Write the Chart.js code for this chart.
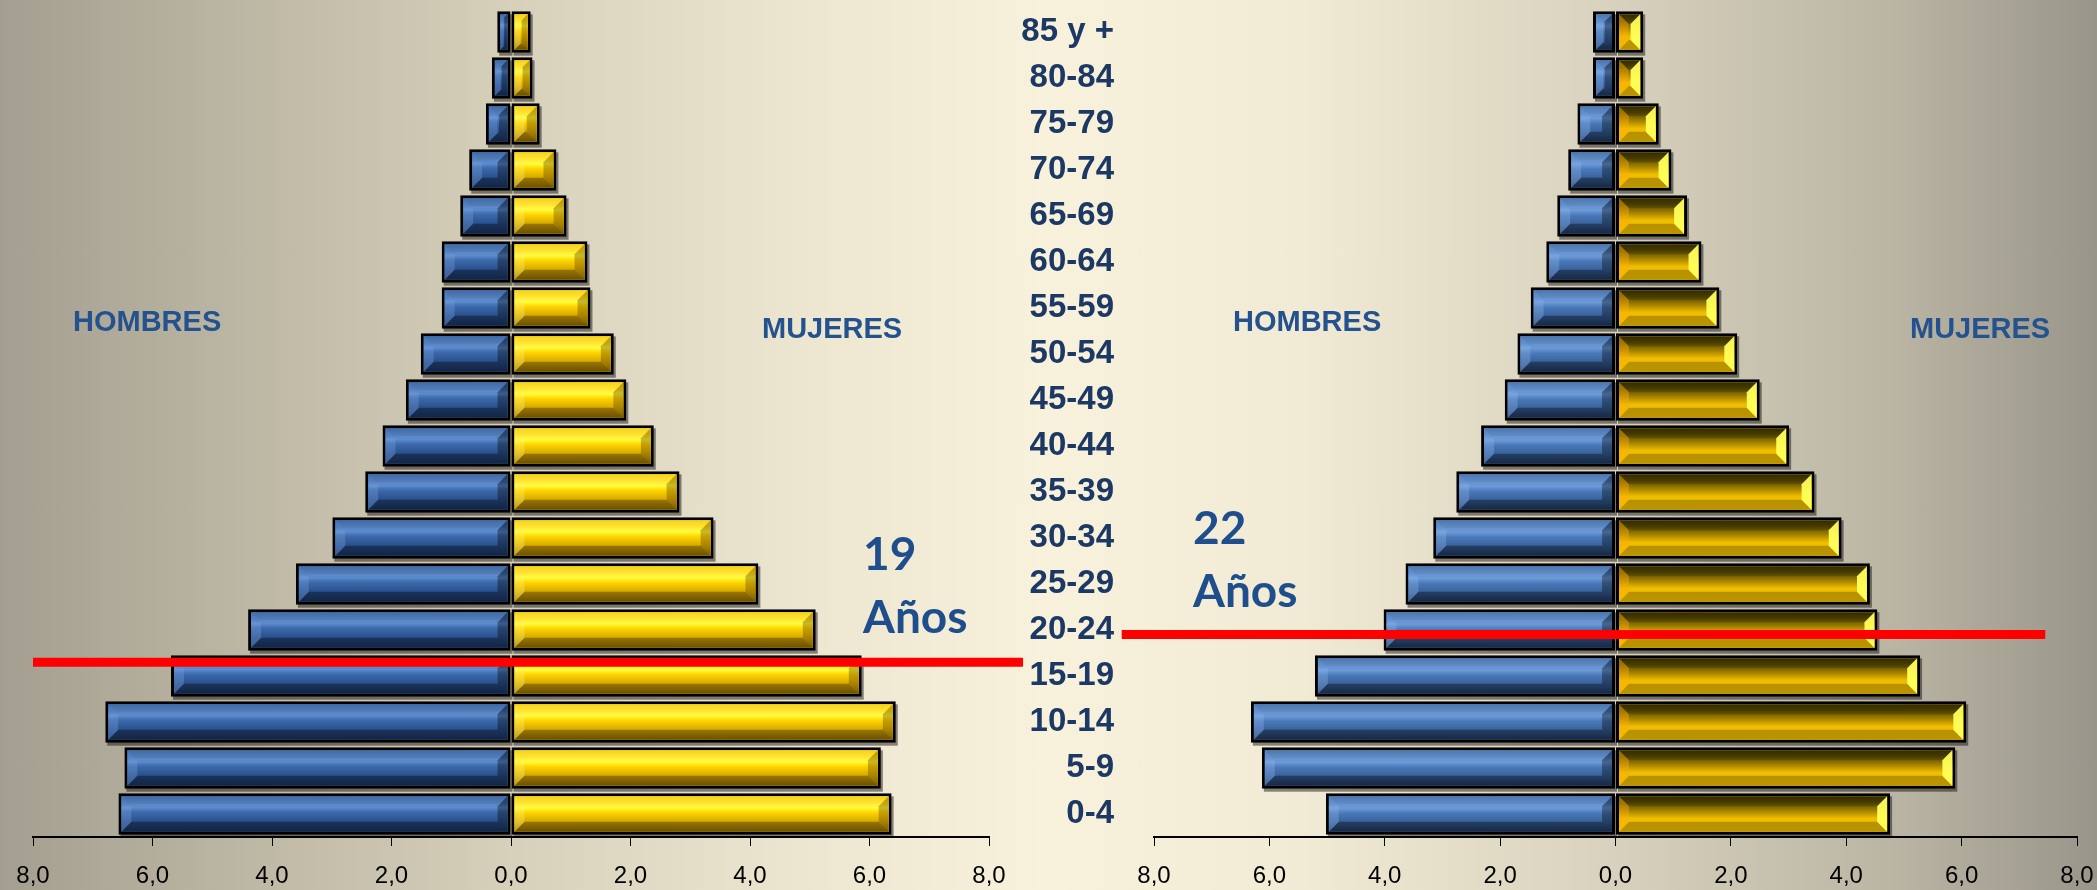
<!DOCTYPE html>
<html>
<head>
<meta charset="utf-8">
<script src="https://cdn.jsdelivr.net/npm/chart.js@4.4.1/dist/chart.umd.min.js"></script>
<style>
  body {
    margin: 0; width: 2097px; height: 890px; overflow: hidden; position: relative;
    font-family: "Liberation Sans", Arial, sans-serif;
    background: linear-gradient(to right, #a39e8f 0%, #b9b4a1 10%, #d6cfba 24%, #ece5cf 38%, #f8f2dd 50%, #f1ead4 62%, #d9d3bf 76%, #bbb6a4 90%, #99958a 100%);
  }
  .box { position: absolute; top: 0; height: 890px; }
  #box1 { left: 0; width: 1040px; }
  #box2 { left: 1000px; width: 1097px; }
  .sex { position: absolute; font-weight: bold; font-size: 29px; line-height: 29px; color: #23528f; white-space: nowrap; }
  .age { position: absolute; font-family: Lato, "Open Sans", sans-serif; font-weight: bold; font-size: 46px; line-height: 46px; color: #1f4e8c; }
</style>
</head>
<body>
<div class="box" id="box1"><canvas id="c1"></canvas></div>
<div class="box" id="box2"><canvas id="c2"></canvas></div>

<div class="sex" style="left:73px;top:307px">HOMBRES</div>
<div class="sex" style="left:762px;top:314px">MUJERES</div>
<div class="sex" style="left:1233px;top:307px">HOMBRES</div>
<div class="sex" style="left:1910px;top:314px">MUJERES</div>

<div class="age" style="left:863px;top:530px">19</div>
<div class="age" style="left:863px;top:593px">Años</div>
<div class="age" style="left:1193px;top:504px">22</div>
<div class="age" style="left:1193px;top:567px">Años</div>

<script>
// age groups, top to bottom
const ageGroups = ['85 y +', '80-84', '75-79', '70-74', '65-69', '60-64', '55-59', '50-54', '45-49',
  '40-44', '35-39', '30-34', '25-29', '20-24', '15-19', '10-14', '5-9', '0-4'];

// left pyramid (%)
const men1   = [0.23, 0.32, 0.42, 0.70, 0.85, 1.16, 1.16, 1.51, 1.76, 2.15, 2.44, 2.99, 3.60, 4.40, 5.69, 6.79, 6.47, 6.57];
const women1 = [0.33, 0.36, 0.48, 0.76, 0.93, 1.28, 1.33, 1.72, 1.93, 2.39, 2.82, 3.39, 4.14, 5.10, 5.87, 6.44, 6.19, 6.37];
// right pyramid (%)
const men2   = [0.39, 0.39, 0.66, 0.82, 1.01, 1.20, 1.47, 1.70, 1.92, 2.33, 2.76, 3.16, 3.64, 4.02, 5.21, 6.32, 6.13, 5.02];
const women2 = [0.48, 0.48, 0.75, 0.97, 1.24, 1.49, 1.80, 2.11, 2.50, 3.01, 3.45, 3.92, 4.41, 4.54, 5.28, 6.08, 5.89, 4.76];

// median age (red line)
const medianAge1 = 19;
const medianAge2 = 22;

const fmt = v => Math.abs(v).toFixed(1).replace('.', ',');

// bevel looks, one per dataset
const look1 = [
  { base: '#2f5a9a',
    face: [[0, '#2c5a9c'], [0.2, '#3f6fb3'], [0.32, '#5d8dcf'], [0.44, '#3d6bad'], [0.72, '#294f8c'], [1, '#1d3a68']],
    top: 'rgba(255,255,255,0.10)', bottom: 'rgba(0,0,0,0.35)', left: 'rgba(120,160,220,0.35)', right: 'rgba(0,0,0,0.35)' },
  { base: '#f5c800',
    face: [[0, '#f3cb00'], [0.2, '#ffe01a'], [0.32, '#ffff3a'], [0.46, '#ffd400'], [0.75, '#cfa300'], [1, '#8a6b00']],
    top: 'rgba(255,255,200,0.15)', bottom: 'rgba(60,40,0,0.4)', left: 'rgba(255,240,120,0.35)', right: 'rgba(90,60,0,0.35)' }
];
const look2 = [
  { base: '#3f6eac',
    face: [[0, '#3a68a6'], [0.2, '#4d7ebf'], [0.33, '#6e9cdb'], [0.48, '#4a78b8'], [0.78, '#345c94'], [1, '#243e66']],
    top: 'rgba(255,255,255,0.10)', bottom: 'rgba(0,0,0,0.35)', left: 'rgba(140,180,235,0.35)', right: 'rgba(0,0,0,0.35)' },
  { base: '#e8b800',
    face: [[0, '#3b3300'], [0.18, '#564900'], [0.42, '#a88500'], [0.62, '#eebd00'], [1, '#f4c400']],
    top: 'rgba(0,0,0,0.15)', bottom: 'rgba(80,60,0,0.35)', left: 'rgba(255,170,0,0.45)', right: 'rgba(255,255,90,0.95)' }
];

function poly(ctx, pts, color) {
  ctx.beginPath();
  ctx.moveTo(pts[0][0], pts[0][1]);
  for (let i = 1; i < pts.length; i++) ctx.lineTo(pts[i][0], pts[i][1]);
  ctx.closePath();
  ctx.fillStyle = color;
  ctx.fill();
}

const bevel = {
  id: 'bevel',
  beforeDatasetsDraw(chart) {
    // soft drop shadow under each bar
    const ctx = chart.ctx;
    ctx.save();
    ctx.fillStyle = 'rgba(0,0,0,0.45)';
    chart.data.datasets.forEach((ds, di) => {
      chart.getDatasetMeta(di).data.forEach(bar => {
        const p = bar.getProps(['x', 'y', 'base', 'height'], true);
        const l = Math.min(p.x, p.base), r = Math.max(p.x, p.base);
        ctx.fillRect(l + 2, p.y - p.height / 2 + 3, r - l, p.height);
      });
    });
    ctx.restore();
  },
  afterDatasetsDraw(chart, args, opts) {
    const ctx = chart.ctx;
    const bw = 3;
    chart.data.datasets.forEach((ds, di) => {
      const st = opts.looks[di];
      chart.getDatasetMeta(di).data.forEach(bar => {
        const p = bar.getProps(['x', 'y', 'base', 'height'], true);
        const l = Math.min(p.x, p.base) + bw, r = Math.max(p.x, p.base) - bw;
        const t = p.y - p.height / 2 + bw, b = p.y + p.height / 2 - bw;
        if (r - l < 2) return;
        ctx.save();
        const g = ctx.createLinearGradient(0, t, 0, b);
        st.face.forEach(s => g.addColorStop(s[0], s[1]));
        ctx.fillStyle = g;
        ctx.fillRect(l, t, r - l, b - t);
        const e = Math.min((b - t) * 0.28, (r - l) / 2.2);
        poly(ctx, [[l, t], [r, t], [r - e, t + e], [l + e, t + e]], st.top);
        poly(ctx, [[l, b], [r, b], [r - e, b - e], [l + e, b - e]], st.bottom);
        poly(ctx, [[l, t], [l + e, t + e], [l + e, b - e], [l, b]], st.left);
        poly(ctx, [[r, t], [r - e, t + e], [r - e, b - e], [r, b]], st.right);
        ctx.restore();
      });
    });
  }
};

const medianLine = {
  id: 'medianLine',
  afterDraw(chart, args, opts) {
    const ys = chart.scales.y, xs = chart.scales.x;
    const y = ys.getPixelForValue(ageGroups.length - 1 - (opts.age - 2.5) / 5);
    const ctx = chart.ctx;
    ctx.save();
    ctx.strokeStyle = '#ff0000';
    ctx.lineWidth = 9;
    ctx.beginPath();
    ctx.moveTo(xs.getPixelForValue(opts.from), y);
    ctx.lineTo(xs.getPixelForValue(opts.to), y);
    ctx.stroke();
    ctx.restore();
  }
};

function pyramid(id, men, women, looks, age, from, to, showLabels, pad) {
  return new Chart(document.getElementById(id), {
    type: 'bar',
    data: {
      labels: ageGroups,
      datasets: [
        { label: 'Hombres', data: men.map(v => -v), backgroundColor: looks[0].base },
        { label: 'Mujeres', data: women, backgroundColor: looks[1].base }
      ]
    },
    options: {
      indexAxis: 'y',
      responsive: true,
      maintainAspectRatio: false,
      animation: false,
      layout: { padding: pad },
      datasets: { bar: { categoryPercentage: 1, barPercentage: 0.9, borderColor: '#000', borderWidth: 3, borderSkipped: false } },
      plugins: {
        legend: { display: false },
        tooltip: { enabled: false },
        bevel: { looks: looks },
        medianLine: { age: age, from: from, to: to }
      },
      scales: {
        x: {
          stacked: true, min: -8, max: 8,
          border: { display: true, color: '#000', width: 2 },
          grid: { drawOnChartArea: false, color: '#000', tickLength: 9 },
          afterFit: s => { s.height = 53; s.paddingLeft = 0; s.paddingRight = 0; },
          ticks: { stepSize: 2, padding: 16, color: '#000', font: { family: '"Liberation Sans", Arial', size: 24 }, callback: v => fmt(v) }
        },
        y: {
          stacked: true,
          display: showLabels,
          grid: { display: false },
          border: { display: false },
          afterFit: s => { if (showLabels) s.width = 154; s.paddingTop = 0; s.paddingBottom = 0; },
          ticks: { autoSkip: false, padding: 32, color: '#1c3864', font: { family: '"Liberation Sans", Arial', size: 33, weight: 'bold' } }
        }
      }
    },
    plugins: [bevel, medianLine]
  });
}

pyramid('c1', men1, women1, look1, medianAge1, -8, 8.57, false, { left: 33, right: 51, top: 9, bottom: 0 });
pyramid('c2', men2, women2, look2, medianAge2, -8.56, 7.45, true, { left: 0, right: 20, top: 9, bottom: 0 });
</script>
</body>
</html>
